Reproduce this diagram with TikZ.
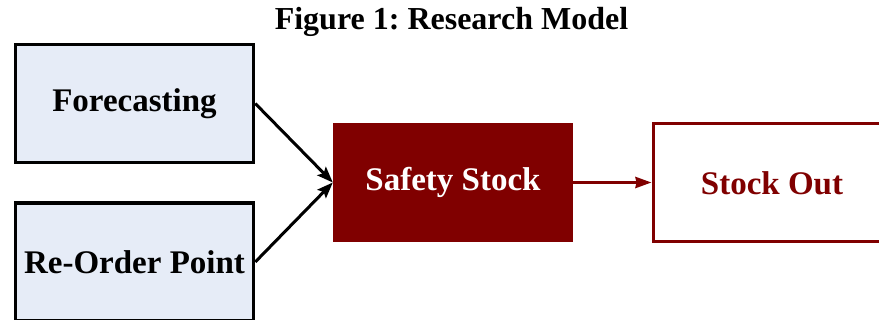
\documentclass[tikz,border=0pt]{standalone}
\usepackage{fontspec}
\setmainfont{Liberation Serif}
\usetikzlibrary{arrows.meta}
\definecolor{boxblue}{HTML}{E6ECF7}
\definecolor{darkred}{HTML}{800000}
\tikzset{
  inbox/.style={draw=black, line width=3.5pt, fill=boxblue, minimum width=238pt, minimum height=118pt, inner sep=0pt, font=\fontsize{33}{40}\selectfont\bfseries},
  midbox/.style={fill=darkred, minimum width=240pt, minimum height=119pt, inner sep=0pt, text=white, font=\fontsize{33}{40}\selectfont\bfseries},
  outbox/.style={draw=darkred, line width=3pt, fill=white, minimum width=238pt, minimum height=118pt, inner sep=0pt, text=darkred, font=\fontsize{33}{40}\selectfont\bfseries},
  blackarrow/.style={draw=black, line width=3pt, -{Stealth[length=16pt,width=12pt,inset=3pt]}},
  redarrow/.style={draw=darkred, line width=3pt, -{Stealth[length=16pt,width=11pt,inset=1pt]}}
}
\frenchspacing
\begin{document}
\begin{tikzpicture}[x=1pt,y=-1pt]
\useasboundingbox (0,0) rectangle (879,320);
\clip (0,0) rectangle (879,320);
\node[font=\fontsize{32}{38}\selectfont\bfseries] (title) at (451.5,22) {Figure 1: Research Model};
\node[inbox] (fc) at (134.5,103.5) {Forecasting};
\node[inbox] (rop) at (134.5,262) {Re-Order Point};
\node[midbox] (ss) at (453,182.5) {Safety Stock};
\node[outbox] (so) at (772,183) {Stock Out};
\draw[blackarrow] (fc.east) -- (ss.west);
\draw[blackarrow] (rop.east) -- (ss.west);
\draw[redarrow] (ss.east) -- (ss.east -| so.west);
\end{tikzpicture}
\end{document}
